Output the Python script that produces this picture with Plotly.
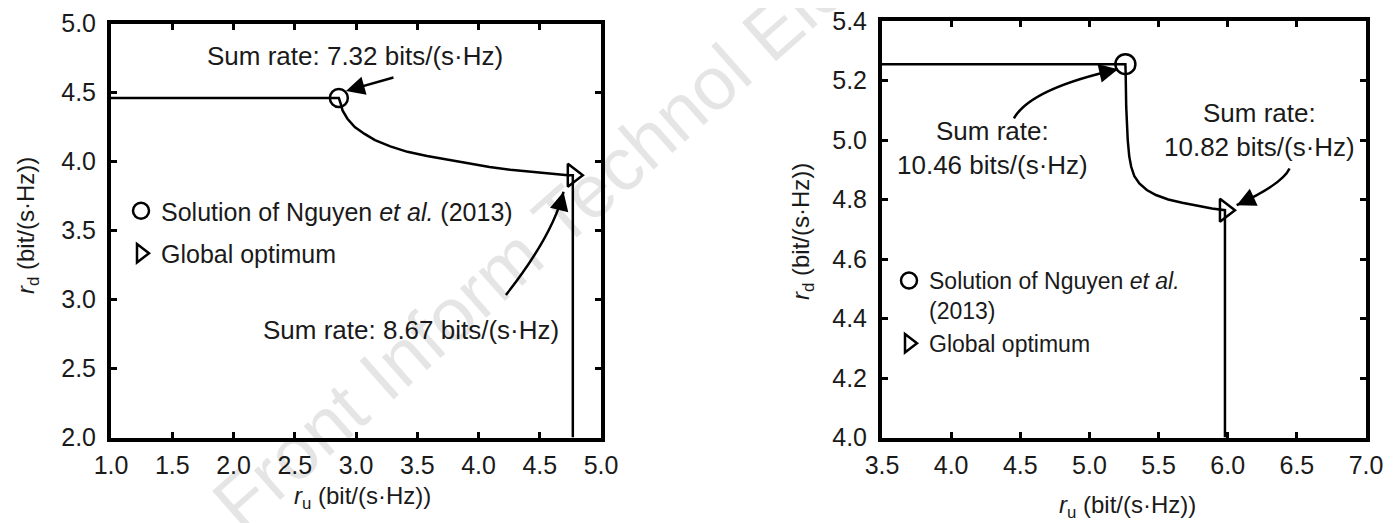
import plotly.graph_objects as go

# ---------------- data ----------------
# Left panel: rate region boundary
left_ru = [1.0, 2.86, 2.875, 2.89, 2.93, 2.99, 3.07, 3.155, 3.28, 3.42, 3.58, 3.76, 3.92, 4.09, 4.26, 4.43, 4.58, 4.73, 4.77, 4.77]
left_rd = [4.46, 4.46, 4.42, 4.37, 4.31, 4.25, 4.20, 4.155, 4.11, 4.07, 4.04, 4.01, 3.985, 3.96, 3.94, 3.925, 3.91, 3.90, 3.90, 2.0]
left_nguyen = (2.86, 4.46)
left_global = (4.77, 3.90)

# Right panel: rate region boundary
right_ru = [3.5, 5.26, 5.262, 5.266, 5.277, 5.288, 5.302, 5.325, 5.361, 5.415, 5.481, 5.57, 5.671, 5.78, 5.886, 5.98, 5.98]
right_rd = [5.255, 5.255, 5.224, 5.112, 5.0, 4.945, 4.91, 4.878, 4.854, 4.832, 4.815, 4.80, 4.789, 4.779, 4.770, 4.764, 4.0]
right_nguyen = (5.26, 5.255)
right_global = (5.98, 4.764)

left_xticks = [1.0, 1.5, 2.0, 2.5, 3.0, 3.5, 4.0, 4.5, 5.0]
left_yticks = [2.0, 2.5, 3.0, 3.5, 4.0, 4.5, 5.0]
right_xticks = [3.5, 4.0, 4.5, 5.0, 5.5, 6.0, 6.5, 7.0]
right_yticks = [4.0, 4.2, 4.4, 4.6, 4.8, 5.0, 5.2, 5.4]

sum_rate_labels_left = ["Sum rate: 7.32 bits/(s·Hz)", "Sum rate: 8.67 bits/(s·Hz)"]
sum_rate_labels_right = ["Sum rate:<br>10.46 bits/(s·Hz)", "Sum rate:<br>10.82 bits/(s·Hz)"]
legend_left = ["Solution of Nguyen <i>et al.</i> (2013)", "Global optimum"]
legend_right = ["Solution of Nguyen <i>et al.</i><br>(2013)", "Global optimum"]
axis_title_u = "<i>r</i><sub>u</sub> (bit/(s·Hz))"
axis_title_d = "<i>r</i><sub>d</sub> (bit/(s·Hz))"

# ---------------- figure ----------------
FONT = "Liberation Sans, Arial, Helvetica, sans-serif"
TXT = "#1a1a1a"
OFF = 8                      # page body margin
W, H = 1395 - 2 * OFF, 523 - OFF
FS = 25


def PX(x):   # page pixel -> paper x
    return (x - OFF) / W


def PY(y):   # page pixel -> paper y
    return 1 - (y - OFF) / H


fig = go.Figure()

fig.add_trace(go.Scatter(x=left_ru, y=left_rd, mode="lines", line=dict(color="black", width=2.5),
                         showlegend=False, xaxis="x", yaxis="y", hoverinfo="skip"))
fig.add_trace(go.Scatter(x=right_ru, y=right_rd, mode="lines", line=dict(color="black", width=2.5),
                         showlegend=False, xaxis="x2", yaxis="y2", hoverinfo="skip"))

fig.add_trace(go.Scatter(x=[left_nguyen[0]], y=[left_nguyen[1]], mode="markers", name=legend_left[0],
                         marker=dict(symbol="circle-open", size=18, color="black", line=dict(width=2.5)),
                         xaxis="x", yaxis="y", legend="legend", legendgroup="a"))
fig.add_trace(go.Scatter(x=[left_global[0]], y=[left_global[1]], mode="markers", name=legend_left[1],
                         marker=dict(symbol="triangle-right-open", size=20, color="black", line=dict(width=2.5)),
                         xaxis="x", yaxis="y", legend="legend", legendgroup="b"))
fig.add_trace(go.Scatter(x=[right_nguyen[0]], y=[right_nguyen[1]], mode="markers", name=legend_right[0],
                         marker=dict(symbol="circle-open", size=20, color="black", line=dict(width=2.5)),
                         xaxis="x2", yaxis="y2", legend="legend2", legendgroup="c"))
fig.add_trace(go.Scatter(x=[right_global[0]], y=[right_global[1]], mode="markers", name=legend_right[1],
                         marker=dict(symbol="triangle-right-open", size=20, color="black", line=dict(width=2.5)),
                         xaxis="x2", yaxis="y2", legend="legend2", legendgroup="c"))

axis_common = dict(showgrid=False, zeroline=False, showline=True, linewidth=4, linecolor="black",
                   mirror="ticks", ticks="inside", ticklen=6, tickwidth=3, tickcolor="black",
                   tickformat=".1f", automargin=False, ticklabeloverflow="allow",
                   tickfont=dict(family=FONT, size=FS, color=TXT))

fig.update_layout(
    width=W, height=H, margin=dict(l=0, r=0, t=0, b=0, autoexpand=False),
    paper_bgcolor="white", plot_bgcolor="white",
    font=dict(family=FONT, size=FS, color=TXT),
    xaxis=dict(domain=[PX(111), PX(601)], range=[1.0, 5.0], tickvals=left_xticks, anchor="y",
               ticklabelstandoff=2, **axis_common),
    yaxis=dict(domain=[PY(437.5), PY(23.5)], range=[2.0, 5.0], tickvals=left_yticks, anchor="x",
               ticklabelstandoff=6, **axis_common),
    xaxis2=dict(domain=[PX(882), PX(1366)], range=[3.5, 7.0], tickvals=right_xticks, anchor="y2",
                ticklabelstandoff=2, **axis_common),
    yaxis2=dict(domain=[PY(437.5), PY(21)], range=[4.0, 5.4], tickvals=right_yticks, anchor="x2",
                ticklabelstandoff=6, **axis_common),
    legend=dict(x=PX(121), y=PY(188), xanchor="left", yanchor="top", bgcolor="rgba(0,0,0,0)",
                font=dict(family=FONT, size=FS, color=TXT), itemsizing="trace",
                tracegroupgap=7, valign="top"),
    legend2=dict(x=PX(889), y=PY(259), xanchor="left", yanchor="top", bgcolor="rgba(0,0,0,0)",
                 font=dict(family=FONT, size=23, color=TXT), itemsizing="trace",
                 tracegroupgap=0, valign="top"),
)

annotations = []
# axis titles
for txt, x, y, ang in [(axis_title_d, 27, 226, -90), (axis_title_u, 362, 497, 0),
                       (axis_title_d, 803, 232, -90), (axis_title_u, 1127, 506, 0)]:
    annotations.append(dict(text=txt, xref="paper", yref="paper", x=PX(x), y=PY(y), textangle=ang,
                            xanchor="center", yanchor="middle", showarrow=False,
                            font=dict(size=FS - 1)))
# sum-rate texts
ann_font = dict(size=26)
annotations += [
    dict(text=sum_rate_labels_left[0], xref="x", yref="y", x=2.992, y=4.765, showarrow=False, font=ann_font),
    dict(text=sum_rate_labels_left[1], xref="x", yref="y", x=3.449, y=2.776, showarrow=False, font=ann_font),
    dict(text=sum_rate_labels_right[0], xref="x2", yref="y2", x=4.30, y=4.973, showarrow=False, font=ann_font),
    dict(text=sum_rate_labels_right[1], xref="x2", yref="y2", x=6.23, y=5.033, showarrow=False, font=ann_font),
]
# straight arrow (left top)
annotations.append(dict(text="", xref="x", yref="y", axref="x", ayref="y", x=2.918, y=4.511,
                        ax=3.318, ay=4.612, showarrow=True, arrowhead=2, arrowsize=1.5,
                        arrowwidth=2.5, arrowcolor="black"))

# curved arrows: quadratic path + short arrowhead annotation
curves = [
    ("x", "y", (4.224, 3.033), (4.61, 3.469), (4.694, 3.781), (122.5, 138.0)),
    ("x2", "y2", (4.454, 5.073), (4.576, 5.173), (5.206, 5.238), (138.3, 297.5)),
    ("x2", "y2", (6.447, 4.904), (6.397, 4.852), (6.065, 4.781), (138.3, 297.5)),
]
shapes = []
for xr, yr, p0, pc, p1, (sx, sy) in curves:
    shapes.append(dict(type="path", xref=xr, yref=yr,
                       path=f"M {p0[0]},{p0[1]} Q {pc[0]},{pc[1]} {p1[0]},{p1[1]}",
                       line=dict(color="black", width=2.5)))
    dx = (p1[0] - pc[0]) * sx
    dy = -(p1[1] - pc[1]) * sy
    n = (dx * dx + dy * dy) ** 0.5
    L = 14
    annotations.append(dict(text="", xref=xr, yref=yr, x=p1[0], y=p1[1], ax=-dx / n * L, ay=-dy / n * L,
                            showarrow=True, arrowhead=2, arrowsize=1.5, arrowwidth=2.5,
                            arrowcolor="black"))

# watermark
annotations.append(dict(text="Front Inform Technol Electron Eng", xref="paper", yref="paper",
                        x=PX(650), y=PY(138), textangle=-41.5, xanchor="center", yanchor="middle",
                        showarrow=False, font=dict(size=75, color="rgba(0,0,0,0.10)")))

fig.update_layout(annotations=annotations, shapes=shapes)
fig.write_html("out.html")
